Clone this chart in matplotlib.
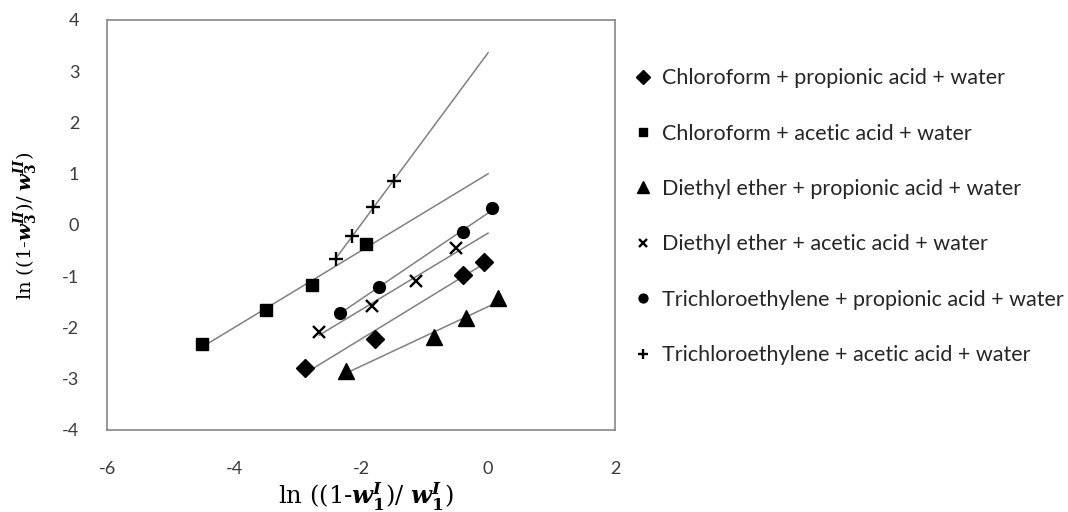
import numpy as np
import matplotlib
matplotlib.use('Agg')
import matplotlib.pyplot as plt

plt.rcParams['font.family'] = ['Lato', 'DejaVu Sans']
plt.rcParams['mathtext.fontset'] = 'dejavuserif'
plt.rcParams['axes.unicode_minus'] = False

# Dados
# ----------------------
x_clf_prop = [-2.88, -1.78, -0.40, -0.06]
y_clf_prop = [-2.80, -2.22, -0.98, -0.72]

x_clf_acet = [-4.50, -3.50, -2.78, -1.92]
y_clf_acet = [-2.33, -1.66, -1.18, -0.37]

x_de_prop = [-2.24, -0.85, -0.34, 0.15]
y_de_prop = [-2.85, -2.18, -1.82, -1.43]

x_de_acet = [-2.66, -1.82, -1.13, -0.50]
y_de_acet = [-2.09, -1.58, -1.09, -0.45]

x_tce_prop = [-2.33, -1.72, -0.39, 0.07]
y_tce_prop = [-1.71, -1.22, -0.14, 0.33]

x_tce_acet = [-2.39, -2.14, -1.81, -1.48]
y_tce_acet = [-0.66, -0.21, 0.36, 0.86]

labels = ['Chloroform + propionic acid + water',
          'Chloroform + acetic acid + water',
          'Diethyl ether + propionic acid + water',
          'Diethyl ether + acetic acid + water',
          'Trichloroethylene + propionic acid + water',
          'Trichloroethylene + acetic acid + water']

series = [(x_clf_prop, y_clf_prop, 'D', 9.5, 0),
          (x_clf_acet, y_clf_acet, 's', 8.5, 0),
          (x_de_prop, y_de_prop, '^', 11.5, 0),
          (x_de_acet, y_de_acet, 'x', 8.5, 1.7),
          (x_tce_prop, y_tce_prop, 'o', 8.5, 0),
          (x_tce_acet, y_tce_acet, '+', 9.5, 1.7)]

fig = plt.figure(figsize=(10.68, 5.12), dpi=100)
ax = fig.add_axes([0.1002, 0.1602, 0.4757, 0.8008])

for (xs, ys, mk, ms, mew), lab in zip(series, labels):
    xs = np.array(xs)
    ys = np.array(ys)
    # Linha de tendencia (ajuste linear), estendida ate x = 0
    a, b = np.polyfit(xs, ys, 1)
    xl = np.array([xs.min(), max(xs.max(), 0.0)])
    ax.plot(xl, a * xl + b, color='#808080', lw=1.1, zorder=1)
    if mew:
        ax.plot(xs, ys, ls='none', marker=mk, ms=ms, mew=mew, color='black',
                label=lab, zorder=2)
    else:
        ax.plot(xs, ys, ls='none', marker=mk, ms=ms, color='black',
                label=lab, zorder=2)

ax.set_xlim(-6, 2)
ax.set_ylim(-4, 4)
ax.set_xticks([-6, -4, -2, 0, 2])
ax.set_yticks(range(-4, 5))
ax.tick_params(length=0, labelsize=13, colors='#3a3a3a')
ax.tick_params(axis='x', pad=22)
ax.tick_params(axis='y', pad=20)
for sp in ax.spines.values():
    sp.set_color('#868686')
    sp.set_linewidth(1.2)

ax.set_xlabel(r'ln ((1-$\mathbfit{w}_\mathbf{1}^{\mathbfit{I}}$)/ $\mathbfit{w}_\mathbf{1}^{\mathbfit{I}}$)',
              family='DejaVu Serif', fontsize=17.5)
ax.set_ylabel(r'ln ((1-$\mathbfit{w}_\mathbf{3}^{\mathbfit{II}}$)/ $\mathbfit{w}_\mathbf{3}^{\mathbfit{II}}$)',
              family='DejaVu Serif', fontsize=14)
ax.xaxis.set_label_coords(0.51, -0.125)
ax.yaxis.set_label_coords(-0.132, 0.497)

fig.legend(loc='upper left', bbox_to_anchor=(0.5955, 0.867), frameon=False,
           fontsize=15.5, labelspacing=1.645, handlelength=0.65,
           handletextpad=0.56, borderpad=0, borderaxespad=0, markerscale=0.75,
           labelcolor='#262626')

fig.savefig('out.png', dpi=100)
